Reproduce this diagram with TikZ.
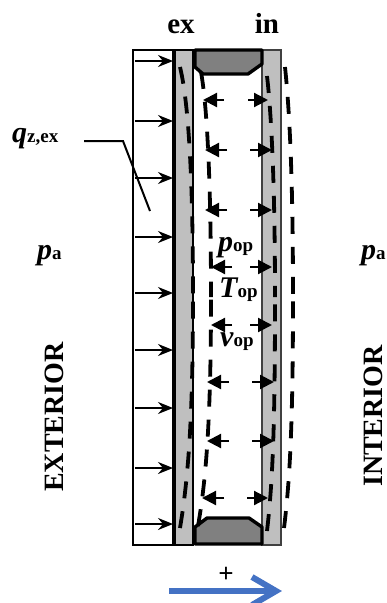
\documentclass[tikz,border=0pt]{standalone}
\usepackage{fontspec}
\setmainfont{Liberation Serif}
\usetikzlibrary{arrows.meta}
\definecolor{wallgray}{HTML}{BFBFBF}
\definecolor{blockgray}{HTML}{808080}
\definecolor{plusblue}{HTML}{4472C4}
\newcommand{\lab}[2]{{\fontsize{30}{30}\selectfont\bfseries\itshape #1}{\fontsize{19}{19}\selectfont\bfseries #2}}
\tikzset{
  heatarrow/.style={line width=2pt,-{Stealth[length=15pt,width=12pt,inset=5pt]}},
  pressarrow/.style={line width=2.2pt,-{Stealth[length=14pt,width=14pt,inset=0pt]}},
  wavy/.style={line width=3.8pt,dash pattern=on 17pt off 13pt},
  labeltext/.style={inner sep=0pt,anchor=base west},
  headtext/.style={inner sep=0pt,anchor=base,font=\fontsize{29}{29}\selectfont\bfseries},
  sidetext/.style={inner sep=0pt,rotate=90,anchor=center,font=\fontsize{28}{28}\selectfont\bfseries}
}
\begin{document}
\begin{tikzpicture}[x=1pt,y=-1pt]
\useasboundingbox (0,0) rectangle (387,603);
\clip (0,0) rectangle (387,603);
% exterior field
\draw[line width=2.2pt,fill=white] (133,50) rectangle (173,545);
% walls
\draw[line width=1.8pt,fill=wallgray] (174,50) rectangle (193,545);
\draw[line width=3.2pt] (174,50) -- (174,545);
\draw[line width=1.8pt,draw=black!75,fill=wallgray] (262,50) rectangle (281,545);
% spacer blocks
\draw[line width=3.4pt,fill=blockgray,line join=round] (195,50) -- (262,50) -- (262,64) -- (248,74) -- (203,74) -- (195,67) -- cycle;
\draw[line width=3.4pt,fill=blockgray,line join=round] (195,544) -- (262,544) -- (262,527) -- (249,518) -- (207,518) -- (195,527) -- cycle;
% heat arrows
\foreach \y in {61,121,178,237,293,350,408,468,524}
  \draw[heatarrow] (135,\y) -- (173,\y);
% pressure arrows
\foreach \y/\la/\lb/\ra/\rb in {100/224/203/248/268,150/227/205/250/272,210/227/205/250/272,267/232/211/250/272,325/232/211/250/272,382/229/207/252/274,441/229/207/252/274,498/224/202/247/268}{
  \draw[pressarrow] (\la,\y) -- (\lb,\y);
  \draw[pressarrow] (\ra,\y) -- (\rb,\y);
}
% dashed deflection curves, each half drawn from its end towards mid-height
\draw[wavy] (180,67) .. controls (188,100) and (193,170) .. (193,297);
\draw[wavy] (180,528) .. controls (188,480) and (193,420) .. (193,297);
\draw[wavy] (201,72) .. controls (207,105) and (211,180) .. (211,297);
\draw[wavy] (198,526) .. controls (206,480) and (211,420) .. (211,297);
\draw[wavy] (267,76) .. controls (271,110) and (275,180) .. (275,297);
\draw[wavy] (267,531) .. controls (273,480) and (275,420) .. (275,297);
\draw[wavy] (285,67) .. controls (289,105) and (293,170) .. (293,297);
\draw[wavy] (284,528) .. controls (290,480) and (293,420) .. (293,297);
% leader
\draw[line width=2pt] (84,141) -- (123,141) -- (150,211);
% texts
\node[headtext] (ex) at (181,33) {ex};
\node[headtext] (in) at (267,33) {in};
\node[labeltext] (q) at (12,142) {\lab{q}{z,ex}};
\node[labeltext] (pl) at (37,259) {\lab{p}{a}};
\node[labeltext] (pr) at (361,259) {\lab{p}{a}};
\node[labeltext] (pop) at (218,251) {\lab{p}{op}};
\node[labeltext] (top) at (219,297) {\lab{T}{op}};
\node[labeltext] (vop) at (220,346) {\lab{v}{op}};
\node[sidetext] (ext) at (54,417) {EXTERIOR};
\node[sidetext] (int) at (373,416) {INTERIOR};
\node[inner sep=0pt,anchor=base,font=\fontsize{27}{27}\selectfont\bfseries] (plus) at (226,582) {+};
% sign arrow
\draw[plusblue,line width=6pt] (169,591) -- (275,591);
\draw[plusblue,line width=6pt,line join=miter] (252,577) -- (276,591) -- (252,605);
\end{tikzpicture}
\end{document}
